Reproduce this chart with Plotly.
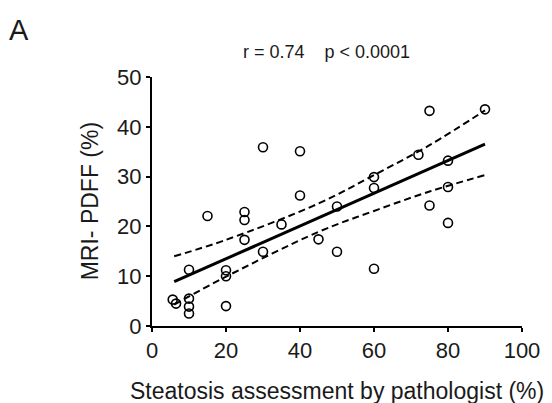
import plotly.graph_objects as go

# Observed data: pathologist steatosis (%) vs MRI-PDFF (%)
pathologist = [5.6, 6.5, 10, 10, 10, 10, 15, 20, 20, 20, 25, 25, 25, 30, 30, 35,
               40, 40, 45, 50, 50, 60, 60, 60, 72, 75, 75, 80, 80, 80, 90]
pdff = [5.3, 4.5, 5.5, 3.9, 2.5, 11.3, 22.1, 11.2, 10.0, 4.0, 22.9, 21.3, 17.3, 35.9, 14.9, 20.4,
        35.1, 26.2, 17.4, 24.0, 14.9, 29.9, 27.7, 11.5, 34.4, 43.2, 24.2, 33.2, 27.9, 20.7, 43.5]

# Regression line and 95% confidence band
fit_x = [6, 90]
fit_y = [8.9, 36.5]
band_x = [6, 20, 45, 60, 75, 90]
band_upper = [14.0, 17.3, 24.6, 30.3, 36.3, 43.3]
band_lower = [4.3, 9.9, 18.9, 23.1, 27.0, 30.3]

x_ticks = [0, 20, 40, 60, 80, 100]
y_ticks = [0, 10, 20, 30, 40, 50]

FONT = "Liberation Sans, Arial, Helvetica, sans-serif"
INK = "#1a1a1a"

fig = go.Figure()
for yb in (band_upper, band_lower):
    fig.add_trace(go.Scatter(x=band_x, y=yb, mode="lines",
                             line=dict(color="black", width=2, dash="7px,4px", shape="spline"),
                             hoverinfo="skip", showlegend=False))
fig.add_trace(go.Scatter(x=fit_x, y=fit_y, mode="lines",
                         line=dict(color="black", width=3), showlegend=False))
fig.add_trace(go.Scatter(x=pathologist, y=pdff, mode="markers",
                         marker=dict(symbol="circle-open", size=9, color="black",
                                     line=dict(width=1.6, color="black")),
                         showlegend=False, cliponaxis=False))

axis_common = dict(showline=True, linecolor="black", linewidth=2, ticks="outside",
                   ticklen=4, tickwidth=1.5, tickcolor="black", showgrid=False,
                   zeroline=False, tickfont=dict(family=FONT, size=22, color=INK))
fig.update_xaxes(range=[0, 100], tickvals=x_ticks, **axis_common)
fig.update_yaxes(range=[0, 50], tickvals=y_ticks, **axis_common)

H_PLOT = 249.0
W_PLOT = 372.0


def px_x(px):
    return (px - 152) / W_PLOT


def px_y(py):
    return (326 - py) / H_PLOT


fig.update_layout(
    width=552, height=403,
    margin=dict(l=152, r=28, t=77, b=77),
    plot_bgcolor="white", paper_bgcolor="white",
    annotations=[
        dict(text="Steatosis assessment by pathologist (%)", xref="paper", yref="paper",
             x=px_x(338), y=px_y(391), xanchor="center", yanchor="middle", showarrow=False,
             font=dict(family=FONT, size=23, color=INK)),
        dict(text="MRI- PDFF (%)", xref="paper", yref="paper", textangle=-90,
             x=px_x(90), y=px_y(201), xanchor="center", yanchor="middle", showarrow=False,
             font=dict(family=FONT, size=23, color=INK)),
        dict(text="r = 0.74    p < 0.0001", xref="paper", yref="paper",
             x=px_x(327), y=px_y(52), xanchor="center", yanchor="middle", showarrow=False,
             font=dict(family=FONT, size=18, color=INK)),
        dict(text="A", xref="paper", yref="paper",
             x=px_x(18.5), y=px_y(30), xanchor="center", yanchor="middle", showarrow=False,
             font=dict(family=FONT, size=29, color=INK)),
    ],
)

fig.write_html("out.html", config={"displayModeBar": False},
               post_script="document.body.style.margin='0';")
